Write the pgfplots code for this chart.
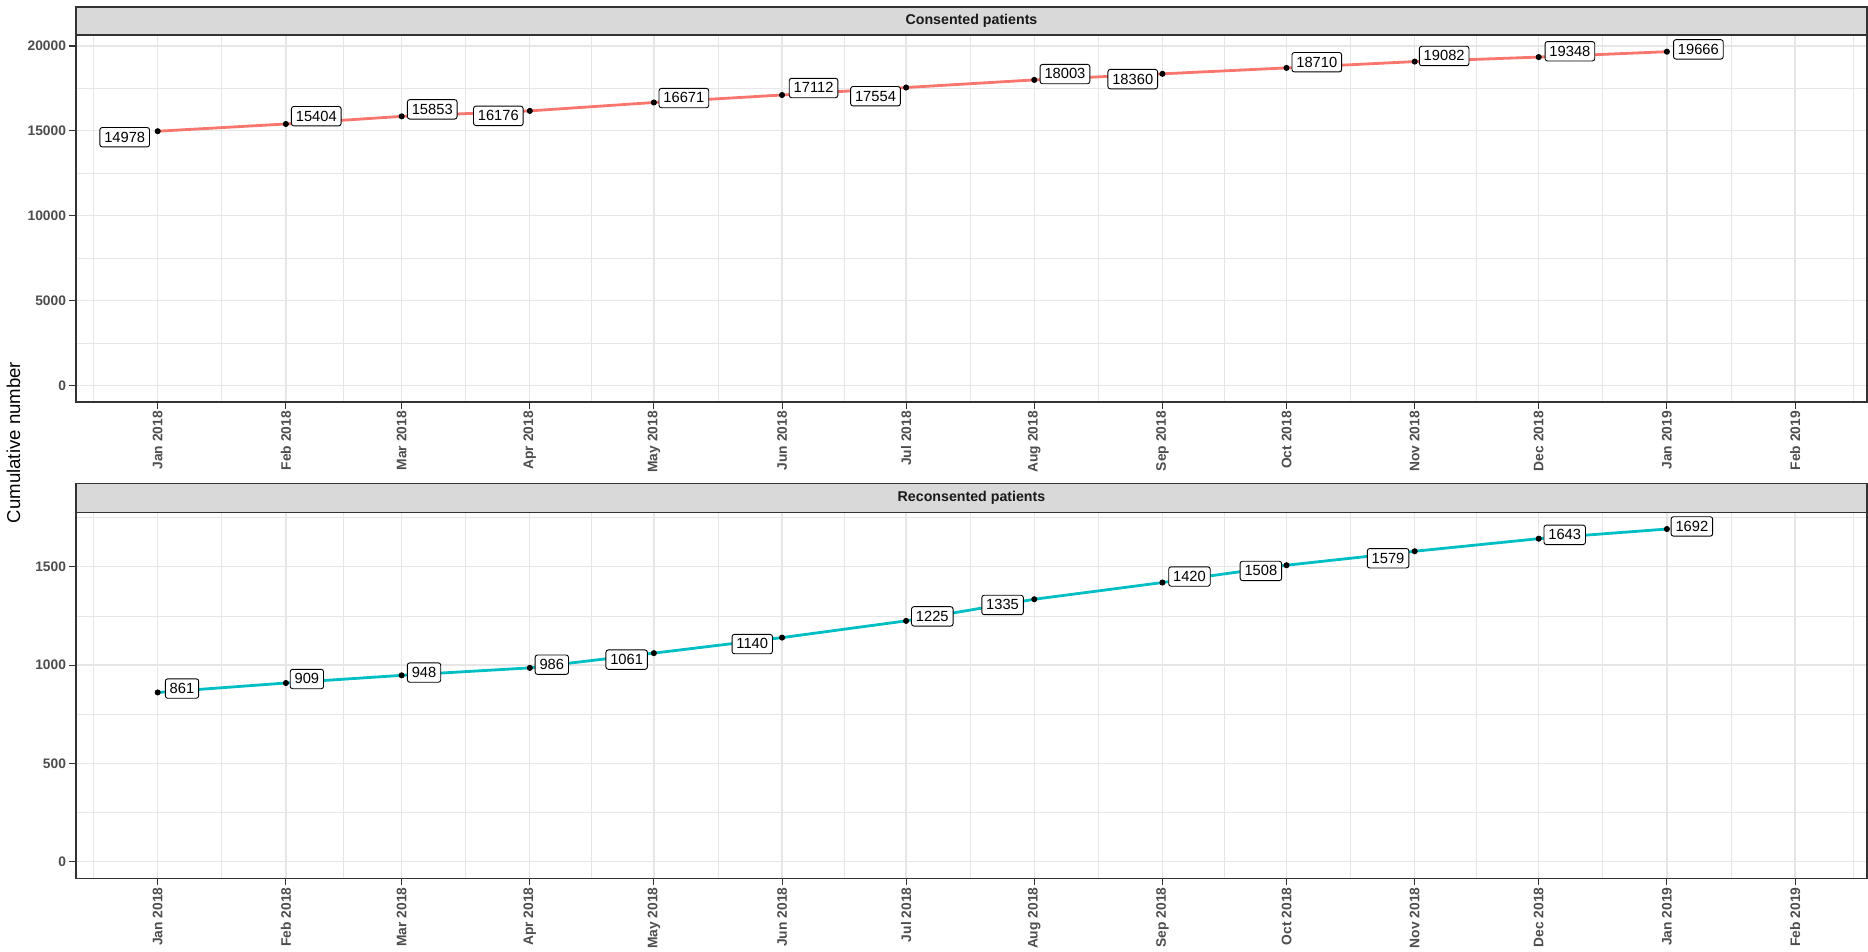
\documentclass[border=0pt]{standalone}
\usepackage{pgfplots}
\pgfplotsset{compat=1.18}
\usepackage{pgfplotstable}
\usepackage{fontspec}
\setmainfont{Liberation Sans}
\definecolor{gridc}{HTML}{E6E6E6}
\definecolor{axtxt}{HTML}{4D4D4D}
\definecolor{framec}{HTML}{333333}
\definecolor{stripbg}{HTML}{D9D9D9}
\definecolor{redl}{HTML}{F8766D}
\definecolor{cyanl}{HTML}{00BFC4}

% x = days since 1 Jan 2018; dx, dy = label offsets (pt)
\pgfplotstableread{
x y dx dy
0 14978 -16.5 -3
31 15404 15.2 3.9
59 15853 15.3 3.5
90 16176 -15.75 -2.5
120 16671 15 2.2
151 17112 15.75 3.5
181 17554 -15.3 -4.35
212 18003 15.35 2.9
243 18360 -14.85 -2.65
273 18710 15.15 2.85
304 19082 14.75 2.8
334 19348 15.6 2.9
365 19666 15.75 1.15
}\consented

\pgfplotstableread{
x y dx dy
0 861 12.15 1.95
31 909 10.5 2
59 948 11.2 1.4
90 986 11 1.6
120 1061 -13.6 -3.25
151 1140 -14.9 -3.25
181 1225 13.1 2.25
212 1335 -15.85 -2.85
243 1420 13.5 3
273 1508 -12.8 -2.85
304 1579 -13.3 -3.5
334 1643 13 1.9
365 1692 12.5 1.3
}\reconsented

\tikzset{
  lab/.style={font=\fontsize{7.35}{8}\selectfont, draw=black, fill=white,
    rounded corners=1.2pt, inner xsep=2.2pt, inner ysep=2pt,
    text height=5.3pt, text depth=0.4pt, line width=0.45pt, anchor=center},
  strip/.style={fill=stripbg, draw=framec, line width=0.9pt},
  striptext/.style={font=\fontsize{7.1}{8}\selectfont\bfseries, text=black!90},
}

\pgfplotsset{
  panel/.style={
    scale only axis, width=895.5pt,
    xmin=-19.76, xmax=413.4,
    xtick={0,31,59,90,120,151,181,212,243,273,304,334,365,396},
    xticklabels={Jan 2018,Feb 2018,Mar 2018,Apr 2018,May 2018,Jun 2018,Jul 2018,Aug 2018,Sep 2018,Oct 2018,Nov 2018,Dec 2018,Jan 2019,Feb 2019},
    minor xtick={-15.5,15.5,45,74.5,105,135.5,166,196.5,227.5,258,288.5,319,349.5,380.5,410},
    grid=both,
    major grid style={gridc, line width=0.65pt},
    minor grid style={gridc, line width=0.4pt},
    tick align=outside, tick pos=left,
    major tick length=3.4pt, minor tick length=0pt,
    major tick style={framec, line width=0.55pt},
    axis line style={framec, line width=0.9pt},
    /pgf/number format/assume math mode=true,
    /pgf/number format/1000 sep={},
    scaled y ticks=false,
    ticklabel style={font=\fontsize{6.9}{8}\selectfont\bfseries, text=axtxt},
    xticklabel style={rotate=90, anchor=east, inner xsep=1pt},
    yticklabel style={inner xsep=1.4pt},
    clip=false,
  },
}

\begin{document}
\begin{tikzpicture}
\useasboundingbox (0,0) rectangle (934pt,-476pt);

\begin{axis}[panel, at={(38pt,-201pt)}, anchor=south west, height=183.5pt,
  ymin=-983.3, ymax=20649.3,
  ytick={0,5000,10000,15000,20000},
  minor ytick={2500,7500,12500,17500}]
  \addplot[redl, line width=1.4pt] table[x=x,y=y]{\consented};
  \addplot[only marks, mark=*, mark size=1.3pt, black,
    point meta=explicit symbolic,
    visualization depends on={\thisrow{dx}\as\dx},
    visualization depends on={\thisrow{dy}\as\dy},
    nodes near coords,
    nodes near coords style={lab, xshift=\dx pt, yshift=\dy pt}]
    table[x=x,y=y,meta=y]{\consented};
  \draw[strip] (rel axis cs:0,1) rectangle ([yshift=14pt]rel axis cs:1,1);
  \node[striptext] at ([yshift=7pt]rel axis cs:0.5,1) {Consented patients};
\end{axis}

\begin{axis}[panel, at={(38pt,-439.2pt)}, anchor=south west, height=183pt,
  ymin=-84.6, ymax=1776.6,
  ytick={0,500,1000,1500},
  minor ytick={250,750,1250,1750}]
  \addplot[cyanl, line width=1.4pt] table[x=x,y=y]{\reconsented};
  \addplot[only marks, mark=*, mark size=1.3pt, black,
    point meta=explicit symbolic,
    visualization depends on={\thisrow{dx}\as\dx},
    visualization depends on={\thisrow{dy}\as\dy},
    nodes near coords,
    nodes near coords style={lab, xshift=\dx pt, yshift=\dy pt}]
    table[x=x,y=y,meta=y]{\reconsented};
  \draw[strip] (rel axis cs:0,1) rectangle ([yshift=14.5pt]rel axis cs:1,1);
  \node[striptext] at ([yshift=7.25pt]rel axis cs:0.5,1) {Reconsented patients};
\end{axis}

\node[rotate=90, anchor=base, font=\fontsize{9.3}{10}\selectfont] at (10pt,-221.25pt) {Cumulative number};
\end{tikzpicture}
\end{document}
